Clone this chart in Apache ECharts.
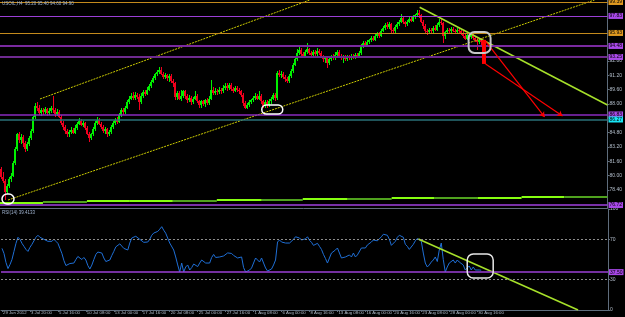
<!DOCTYPE html>
<html>
<head>
<meta charset="utf-8">
<title>USOIL H4</title>
<script src="https://cdn.jsdelivr.net/npm/echarts@6.0.0/dist/echarts.min.js"></script>
<style>
  html, body { margin: 0; padding: 0; background: #000; }
  #chart { width: 625px; height: 317px; }
</style>
</head>
<body>
<div id="chart"></div>
<script>
// H4 candles, [open, close, low, high]
const candles = [
  [80.7,79.8,79.6,81.0],[79.8,79.4,79.2,80.4],[79.4,78.2,77.3,79.6],[78.2,78.9,77.9,79.1],[78.9,79.6,78.6,79.8],
  [79.6,80.0,79.3,80.3],[80.0,81.4,79.8,81.6],[81.4,83.0,81.2,83.2],[83.0,84.6,82.8,84.8],[84.6,84.0,83.6,84.9],
  [84.0,84.3,83.5,84.6],[84.3,83.6,83.2,84.5],[83.6,83.0,82.6,83.9],[83.0,83.5,82.7,83.8],[83.5,84.2,83.3,84.4],
  [84.2,85.0,84.0,85.2],[85.0,86.5,84.8,86.7],[86.5,87.8,86.3,88.1],[87.8,87.6,87.2,88.2],[87.6,87.0,86.8,87.9],
  [87.0,87.3,86.7,87.6],[87.3,87.1,86.8,87.5],[87.1,87.4,86.9,87.7],[87.4,87.0,86.7,87.6],[87.0,87.2,86.8,87.5],
  [87.2,87.5,87.0,87.8],[87.5,87.3,87.0,88.9],[87.3,86.9,86.6,87.5],[86.9,87.1,86.7,87.4],[87.1,86.6,86.4,87.3],
  [86.6,85.9,85.7,86.8],[85.9,85.4,85.1,86.1],[85.4,85.0,84.6,85.6],[85.0,84.6,84.3,85.2],[84.6,84.9,84.3,85.1],
  [84.9,85.1,84.7,85.4],[85.1,84.8,84.6,85.3],[84.8,85.3,84.7,85.6],[85.3,85.8,85.1,86.0],[85.8,86.1,85.6,86.4],
  [86.1,85.7,85.5,86.3],[85.7,85.9,85.4,86.1],[85.9,85.3,85.1,86.0],[85.3,84.7,84.5,85.5],[84.7,84.2,83.8,84.9],
  [84.2,84.6,84.0,84.8],[84.6,85.2,84.4,85.4],[85.2,85.9,85.0,86.1],[85.9,86.2,85.7,86.5],[86.2,85.8,85.6,86.4],
  [85.8,85.4,85.2,86.0],[85.4,85.0,84.8,85.6],[85.0,85.2,84.7,85.4],[85.2,84.6,84.3,85.3],[84.6,84.9,84.4,85.1],
  [84.9,85.4,84.7,85.6],[85.4,85.9,85.2,86.1],[85.9,86.2,85.6,86.4],[86.2,86.0,85.8,86.5],[86.0,86.8,85.9,87.0],
  [86.8,87.3,86.6,87.5],[87.3,87.1,86.8,87.6],[87.1,87.6,86.9,87.8],[87.6,88.2,87.4,88.4],[88.2,88.6,88.0,88.9],
  [88.6,88.9,88.4,89.2],[88.9,88.7,88.5,89.3],[88.7,89.0,88.5,89.3],[89.0,88.8,88.6,89.2],[88.8,88.2,87.3,89.1],
  [88.2,88.9,88.0,89.2],[88.9,89.3,88.7,89.6],[89.3,89.1,88.9,89.6],[89.1,89.6,89.0,89.9],[89.6,90.0,89.4,90.2],
  [90.0,90.5,89.8,90.7],[90.5,90.9,90.3,91.1],[90.9,91.3,90.7,91.5],[91.3,91.6,91.1,91.8],[91.6,91.8,91.4,92.1],
  [91.8,91.4,91.2,92.1],[91.4,91.0,90.8,91.6],[91.0,91.2,90.8,91.5],[91.2,90.9,90.6,91.4],[90.9,91.1,90.5,91.3],
  [91.1,90.6,90.4,91.3],[90.6,90.3,89.9,90.8],[90.3,88.8,88.5,90.5],[88.8,89.2,88.5,89.5],[89.2,88.6,88.4,89.4],
  [88.6,88.9,88.3,89.6],[88.9,89.4,88.7,89.6],[89.4,88.9,88.6,89.6],[88.9,88.4,88.1,89.1],[88.4,88.7,88.2,89.0],
  [88.7,88.2,87.9,88.9],[88.2,88.6,88.0,88.8],[88.6,88.9,88.4,89.4],[88.9,88.3,88.1,89.1],[88.3,87.9,87.6,88.5],
  [87.9,88.3,87.6,88.5],[88.3,88.0,87.8,88.5],[88.0,88.4,87.7,88.6],[88.4,88.1,87.9,88.7],[88.1,88.6,87.9,88.9],
  [88.6,89.6,88.4,90.7],[89.6,89.2,89.0,89.9],[89.2,89.5,89.0,89.8],[89.5,89.3,89.0,89.7],[89.3,89.6,89.1,89.9],
  [89.6,89.4,89.1,89.8],[89.4,89.8,89.2,90.1],[89.8,90.0,89.6,90.3],[90.0,89.8,89.5,90.3],[89.8,90.1,89.6,90.4],
  [90.1,89.7,89.5,90.3],[89.7,89.5,89.2,89.9],[89.5,89.8,89.3,90.0],[89.8,89.6,89.3,90.0],[89.6,89.4,89.1,89.8],
  [89.4,89.0,88.8,89.6],[89.0,88.1,87.8,89.2],[88.1,87.6,87.4,88.3],[87.6,87.9,87.4,88.1],[87.9,88.2,87.7,88.4],
  [88.2,88.4,88.0,88.6],[88.4,88.7,88.2,88.9],[88.7,88.9,88.5,89.2],[88.9,88.6,88.4,89.1],[88.6,88.9,88.4,89.5],
  [88.9,88.3,88.0,89.1],[88.3,87.8,87.6,88.5],[87.8,88.2,87.5,88.4],[88.2,87.9,87.6,88.4],[87.9,88.3,87.7,88.6],
  [88.3,88.6,88.0,88.8],[88.6,89.0,88.4,89.2],[89.0,88.7,88.3,89.2],[88.7,91.5,88.5,91.7],[91.5,91.2,91.0,91.8],
  [91.2,91.4,90.9,91.7],[91.4,91.0,90.8,91.6],[91.0,90.8,90.5,91.2],[90.8,90.6,90.3,91.0],[90.6,91.1,90.4,91.3],
  [91.1,91.7,90.9,91.9],[91.7,92.4,91.5,92.6],[92.4,93.0,92.2,93.2],[93.0,93.7,92.8,94.1],[93.7,94.0,93.5,94.4],
  [94.0,93.6,93.3,94.2],[93.6,93.4,93.1,93.8],[93.4,93.8,93.2,94.0],[93.8,94.1,93.6,94.8],[94.1,93.7,93.5,94.3],
  [93.7,93.5,93.2,93.9],[93.5,93.8,93.3,94.0],[93.8,93.6,93.3,94.0],[93.6,93.9,93.4,94.2],[93.9,93.7,93.5,94.1],
  [93.7,93.3,93.1,93.9],[93.3,93.0,92.7,93.5],[93.0,93.2,92.6,93.4],[93.2,92.6,92.0,93.4],[92.6,93.0,92.4,93.2],
  [93.0,93.3,92.8,93.5],[93.3,93.1,92.9,93.6],[93.1,93.5,92.9,93.8],[93.5,93.8,93.3,94.0],[93.8,93.4,93.2,94.0],
  [93.4,93.1,92.9,93.6],[93.1,93.3,92.6,93.5],[93.3,93.0,92.8,93.5],[93.0,93.3,92.8,93.5],[93.3,93.1,92.9,93.5],
  [93.1,93.4,92.9,93.6],[93.4,93.2,93.0,93.6],[93.2,93.5,93.0,93.7],[93.5,93.3,93.1,93.7],[93.3,93.7,93.1,93.9],
  [93.7,94.5,93.5,94.7],[94.5,94.8,94.3,95.0],[94.8,94.6,94.4,95.0],[94.6,94.9,94.4,95.1],[94.9,95.1,94.7,95.3],
  [95.1,95.4,94.9,95.6],[95.4,95.2,95.0,95.6],[95.2,95.6,95.0,95.8],[95.6,95.8,95.4,96.0],[95.8,95.6,95.4,96.0],
  [95.6,96.2,95.5,96.4],[96.2,96.5,96.0,96.7],[96.5,96.8,96.3,97.0],[96.8,96.6,96.4,97.1],[96.6,96.9,96.4,97.1],
  [96.9,96.3,95.9,97.0],[96.3,96.1,95.8,96.5],[96.1,96.6,95.9,96.8],[96.6,96.9,96.4,97.1],[96.9,97.2,96.7,97.4],
  [97.2,97.6,97.0,98.0],[97.6,97.1,96.9,97.8],[97.1,96.9,96.6,97.3],[96.9,97.2,96.7,97.4],[97.2,97.5,97.0,97.7],
  [97.5,97.3,97.1,97.8],[97.3,97.7,97.1,97.9],[97.7,97.9,97.5,98.1],[97.9,98.2,97.7,98.5],[98.2,97.9,97.6,98.5],
  [97.9,97.2,97.0,98.1],[97.2,96.7,96.4,97.4],[96.7,96.2,95.9,96.9],[96.2,96.0,95.7,96.4],[96.0,96.3,95.8,96.5],
  [96.3,96.1,95.9,96.5],[96.1,96.5,95.9,96.7],[96.5,96.3,96.1,96.8],[96.3,96.8,96.1,97.0],[96.8,97.2,96.6,97.5],
  [97.2,97.0,96.8,97.5],[97.0,95.6,94.8,97.2],[95.6,96.0,95.3,96.2],[96.0,96.3,95.8,96.5],[96.3,96.1,95.9,96.5],
  [96.1,96.4,95.9,96.6],[96.4,96.2,96.0,96.6],[96.2,96.0,95.8,96.4],[96.0,96.3,95.8,96.5],[96.3,96.1,95.9,96.5],
  [96.1,95.9,95.7,96.3],[95.9,95.6,95.4,96.1],[95.6,95.3,95.1,95.8],[95.3,95.7,95.1,95.9],[95.7,95.5,95.3,95.9],
  [95.5,95.8,95.3,96.0],[95.8,95.4,95.2,96.0],[95.4,95.2,94.9,95.6],[95.2,94.9,94.0,95.4],[94.9,95.2,94.7,95.4],
  [95.2,94.9,94.6,95.4]
];

// RSI(14), one value per candle
const rsiValues = [
  61,56,47,41,45,50,58,66,72,70, 66,63,60,58,62,65,65,72,74,72,
  71,70,69,68,67,68,70,68,66,61, 56,49,44,43,46,47.5,46.5,50,53,54,
  50,52,49.5,44,40.6,44.5,50,55,57.4,56.6, 56.4,51.5,48,46.5,49.5,54,58,62.5,64.4,65.5,
  65,61,59.4,59.4,66.3,71.3,71.3,73,72,70, 69.3,67,66.5,67.3,70,74,76.2,77,77.8,80,
  82.5,79,76,74.3,66.3,64.4,59.4,52.5,44.6,37.6, 46.5,37.6,42.6,44.6,39.6,42,45.5,44.5,43,46.5,
  49.5,48,46.5,47.5,46.5,52,55,52,51.5,52.5, 53,53.5,54.5,56.5,57,56,54,52.5,51.5,52,
  52.5,42,37.6,36.6,39.6,41.6,42.6,51.5,49.5,47.5, 51.5,46.5,41.6,38.6,37.6,40.6,44.6,49.5,67.3,69.3,
  67.3,68.3,66.3,67.3,66.3,67.3,70,72.5,74.3,71.3, 69.3,69.3,70.5,72.5,69,67,64,65,66,63,
  60,55,51,46.5,51.5,56.4,56.4,59.4,61.4,56.4, 51.5,50.5,52.5,51.5,54.5,52.5,56.4,52.5,54.5,56.4,
  61.4,62.4,61.4,64.4,66.3,67.3,69.3,68,68.5,70, 72.5,75,76.2,74,70,64,63,68,72,74,
  75,72,65,63,60,59,65,68.5,70.8,70.5, 68,56.4,46.5,42.6,44.6,47.5,49.5,52.5,48,59.4,
  66.3,50,37.6,42.6,46.5,47.5,49.5,46.5,49.5,47.5, 46.5,44.6,39.6,41.6,43.6,39.6,42.6,39.6,38.6,39.6,
  39.4
];

// time scale labels (one every 14 bars)
const timeLabels = [
  '29 Jun 2012', '3 Jul 20:00', '5 Jul 16:00', '10 Jul 08:00', '13 Jul 00:00', '17 Jul 16:00',
  '20 Jul 08:00', '25 Jul 00:00', '27 Jul 16:00', '1 Aug 08:00', '6 Aug 00:00', '8 Aug 16:00',
  '13 Aug 08:00', '16 Aug 00:00', '20 Aug 16:00', '23 Aug 08:00', '28 Aug 00:00', '30 Aug 16:00'
];
const priceTicks = [78.4, 80.0, 81.6, 83.2, 84.8, 88.0, 89.6, 91.2, 92.8];
const rsiTicks = [0, 30, 70, 100];

// horizontal levels drawn on the chart
const orangeLevels = [99.39, 95.93];
const purpleLevels = [97.83, 94.48, 93.25, 86.83, 76.72];
const tealLevels = [86.27];
const bidPrice = 94.90;
const rsiLevel = 37.5;

// drawn objects, [bar index, price]
const upperChannel = [[19.5, 88.56], [154.5, 99.61]];
const lowerChannel = [[3.5, 77.28], [297, 99.61]];
const downTrend = [[209.5, 98.80], [303.5, 87.89]];
const rsiTrend = [[208.5, 70.3], [288.5, 0]];
const arrows = [
  [[242, 95.15], [272, 86.55]],
  [[242.5, 92.47], [281, 86.66]]
];
const dropBar = [[241.5, 95.15], [241.5, 92.47]];
// stepped support line [from bar, to bar, price]
const pivotSteps = [
  [-0.5, 21, 77.02], [21, 43, 77.09], [43, 64.5, 77.15], [64.5, 86, 77.19], [86, 108, 77.24],
  [108, 130.5, 77.28], [130.5, 151, 77.36], [151, 173.5, 77.39], [173.5, 195.5, 77.46],
  [195.5, 217, 77.51], [217, 238.5, 77.54], [238.5, 260.5, 77.58], [260.5, 282, 77.61], [282, 303.5, 77.70]
];
// marker rings, two opposite corners each
const priceRings = [
  [[234, 96.04], [245, 93.69]],
  [[130.5, 87.89], [141, 86.88]],
  [[0.5, 77.95], [6.5, 76.83]]
];
const rsiRings = [[[233, 55.4], [246, 31.7]]];

// ---------------------------------------------------------------
const SLOTS = 304;      // bar slots across the plot (2px each), empty space on the right
const LABEL_STEP = 14;
const font = 'Liberation Sans, Arial, sans-serif';
const axisColor = '#5f6d7c';
const textColor = '#b4bfcc';
const bullColor = '#00f000';
const bearColor = '#f0001e';
const darkSteps = [1, 4, 6, 8, 10, 13];
const purpleStyle = [['#9b3fd6', 1.2], ['#7a2aa0', 2], ['#6e2a90', 2], ['#8a2bc0', 1.5], ['#a040e0', 1.5]];
const gridR = 625 - SLOTS * 2;

const slots = [];
for (let i = 0; i < SLOTS; i++) slots.push(i);
const candleRows = candles.map((d, i) => [i, d[0], d[1], d[2], d[3]]);

const showLabel = (idx) => idx % LABEL_STEP === 0 && idx / LABEL_STEP < timeLabels.length;

// MT4-like candle: 2px body, 1px wick, snapped to whole pixels
function renderCandle(params, api) {
  const i = api.value(0);
  const o = api.value(1), c = api.value(2), l = api.value(3), h = api.value(4);
  const pO = api.coord([i, o]), pC = api.coord([i, c]);
  const pL = api.coord([i, l]), pH = api.coord([i, h]);
  const x = Math.round(pO[0]) - 1;
  const top = Math.round(Math.min(pO[1], pC[1]));
  const bot = Math.round(Math.max(pO[1], pC[1]));
  const color = c >= o ? bullColor : bearColor;
  return {
    type: 'group',
    children: [
      { type: 'rect', shape: { x: x + 1, y: Math.round(pH[1]), width: 1, height: Math.round(pL[1]) - Math.round(pH[1]) },
        style: { fill: color } },
      { type: 'rect', shape: { x: x, y: top, width: 2, height: Math.max(1, bot - top) },
        style: { fill: color } }
    ]
  };
}

function levelLine(v, color, width, bg) {
  return {
    yAxis: v,
    lineStyle: { color: color, width: width, type: 'solid' },
    label: {
      show: true, position: 'end', distance: 1, formatter: v.toFixed(2),
      backgroundColor: bg, color: '#000', fontSize: 5, fontFamily: font, padding: [1, 1, 0, 1]
    }
  };
}

const priceMarks = [];
orangeLevels.forEach(v => priceMarks.push(levelLine(v, '#c48a1c', 1.2, '#e09a20')));
purpleLevels.forEach((v, k) => priceMarks.push(levelLine(v, purpleStyle[k][0], purpleStyle[k][1], '#a848e8')));
tealLevels.forEach(v => priceMarks.push(levelLine(v, '#2a7078', 1.5, '#18e4f4')));
pivotSteps.forEach(([a, b, p], k) => {
  priceMarks.push([
    { coord: [a, p], lineStyle: { color: darkSteps.includes(k) ? '#4fa21e' : '#86ff10', width: 2, type: 'solid' } },
    { coord: [b, p] }
  ]);
});
arrows.forEach(([s, e]) => {
  priceMarks.push([
    { coord: s, symbol: 'none', lineStyle: { color: '#ff0000', width: 1.2, type: 'solid' } },
    { coord: e, symbol: 'arrow', symbolSize: 5 }
  ]);
});
priceMarks.push([
  { coord: dropBar[0], lineStyle: { color: '#ff0000', width: 4, type: 'solid' } },
  { coord: dropBar[1] }
]);
const bid = levelLine(bidPrice, '#000', 0, '#d4e0f6');
bid.lineStyle.opacity = 0;
priceMarks.push(bid);

const rsiMarks = [
  { yAxis: 70, lineStyle: { color: '#8c8c8c', width: 1, type: [2, 2] }, label: { show: false } },
  { yAxis: 30, lineStyle: { color: '#8c8c8c', width: 1, type: [2, 2] }, label: { show: false } },
  levelLine(rsiLevel, '#9b3fd6', 1.5, '#a848e8')
];

const chart = echarts.init(document.getElementById('chart'));

chart.setOption({
  backgroundColor: '#000',
  animation: false,
  title: [
    { text: 'USOIL,H4  95.20 95.40 94.60 94.90', left: 2, top: 1, padding: 0,
      textStyle: { color: '#9fb3cf', fontSize: 4.5, fontWeight: 'normal', fontFamily: font } },
    { text: 'RSI(14) 39.4133', left: 2, top: 210, padding: 0,
      textStyle: { color: '#9fb3cf', fontSize: 4.5, fontWeight: 'normal', fontFamily: font } }
  ],
  grid: [
    { left: 0, right: gridR, top: 0, height: 208 },
    { left: 0, right: gridR, top: 209, height: 101 }
  ],
  xAxis: [
    { type: 'category', gridIndex: 0, data: slots, boundaryGap: true,
      axisLine: { onZero: false, lineStyle: { color: axisColor } },
      axisTick: { show: false }, axisLabel: { show: false }, splitLine: { show: false } },
    { type: 'value', gridIndex: 0, min: -0.5, max: SLOTS - 0.5, show: false },
    { type: 'category', gridIndex: 1, data: slots, boundaryGap: true,
      axisLine: { onZero: false, lineStyle: { color: axisColor } },
      axisTick: { show: true, alignWithLabel: true, interval: showLabel, length: 2, lineStyle: { color: axisColor } },
      axisLabel: {
        interval: showLabel, formatter: (v, idx) => timeLabels[idx / LABEL_STEP] || '',
        align: 'left', margin: 1, padding: [0, 0, 0, 1], fontSize: 4.3, color: textColor, fontFamily: font
      },
      splitLine: { show: false } },
    { type: 'value', gridIndex: 1, min: -0.5, max: SLOTS - 0.5, show: false }
  ],
  yAxis: [
    { type: 'value', gridIndex: 0, position: 'right', min: 76.39, max: 99.61, scale: true,
      axisLine: { show: true, onZero: false, lineStyle: { color: axisColor } },
      axisTick: { show: true, length: 2, customValues: priceTicks, lineStyle: { color: axisColor } },
      axisLabel: { customValues: priceTicks, formatter: v => v.toFixed(2), fontSize: 5, margin: 2,
        color: textColor, fontFamily: font },
      splitLine: { show: false } },
    { type: 'value', gridIndex: 1, position: 'right', min: 0, max: 100,
      axisLine: { show: true, onZero: false, lineStyle: { color: axisColor } },
      axisTick: { show: true, length: 2, customValues: rsiTicks, lineStyle: { color: axisColor } },
      axisLabel: { customValues: rsiTicks, fontSize: 5, margin: 2, color: textColor, fontFamily: font },
      splitLine: { show: false } }
  ],
  series: [
    {
      type: 'custom', xAxisIndex: 0, yAxisIndex: 0, data: candleRows, renderItem: renderCandle,
      encode: { x: 0, y: [1, 2, 3, 4] }, silent: true, clip: true
    },
    {
      type: 'line', xAxisIndex: 1, yAxisIndex: 0, data: upperChannel, symbol: 'none', silent: true,
      lineStyle: { color: '#cccc00', width: 1, type: [2, 1] },
      markLine: { silent: true, symbol: ['none', 'none'], animation: false, data: priceMarks }
    },
    {
      type: 'line', xAxisIndex: 1, yAxisIndex: 0, data: lowerChannel, symbol: 'none', silent: true,
      lineStyle: { color: '#cccc00', width: 1, type: [2, 1] }
    },
    {
      type: 'line', xAxisIndex: 1, yAxisIndex: 0, data: downTrend, symbol: 'none', silent: true,
      lineStyle: { color: '#a6e02a', width: 1.5 }
    },
    {
      type: 'line', xAxisIndex: 2, yAxisIndex: 1, data: rsiValues, symbol: 'none', silent: true,
      lineStyle: { color: '#1f6fd6', width: 1 },
      markLine: { silent: true, symbol: ['none', 'none'], animation: false, data: rsiMarks }
    },
    {
      type: 'line', xAxisIndex: 3, yAxisIndex: 1, data: rsiTrend, symbol: 'none', silent: true,
      lineStyle: { color: '#a6e02a', width: 1.5 }
    }
  ]
});

// rounded marker rings, placed through the axes
function ring(corners, finder, color, width) {
  const a = chart.convertToPixel(finder, corners[0]);
  const b = chart.convertToPixel(finder, corners[1]);
  const x = Math.min(a[0], b[0]), y = Math.min(a[1], b[1]);
  const w = Math.abs(b[0] - a[0]), h = Math.abs(b[1] - a[1]);
  return {
    type: 'rect', silent: true, z: 100,
    shape: { x: x, y: y, width: w, height: h, r: Math.min(6, h / 2, w / 2) },
    style: { fill: null, stroke: color, lineWidth: width }
  };
}
const ringColors = [['#c8c8c8', 2], ['#ffffff', 1.5], ['#ffffff', 1.5]];
const shapes = priceRings.map((c, k) => ring(c, { xAxisIndex: 1, yAxisIndex: 0 }, ringColors[k][0], ringColors[k][1]));
rsiRings.forEach(c => shapes.push(ring(c, { xAxisIndex: 3, yAxisIndex: 1 }, '#e8e8e8', 1.5)));
chart.setOption({ graphic: shapes });
</script>
</body>
</html>
